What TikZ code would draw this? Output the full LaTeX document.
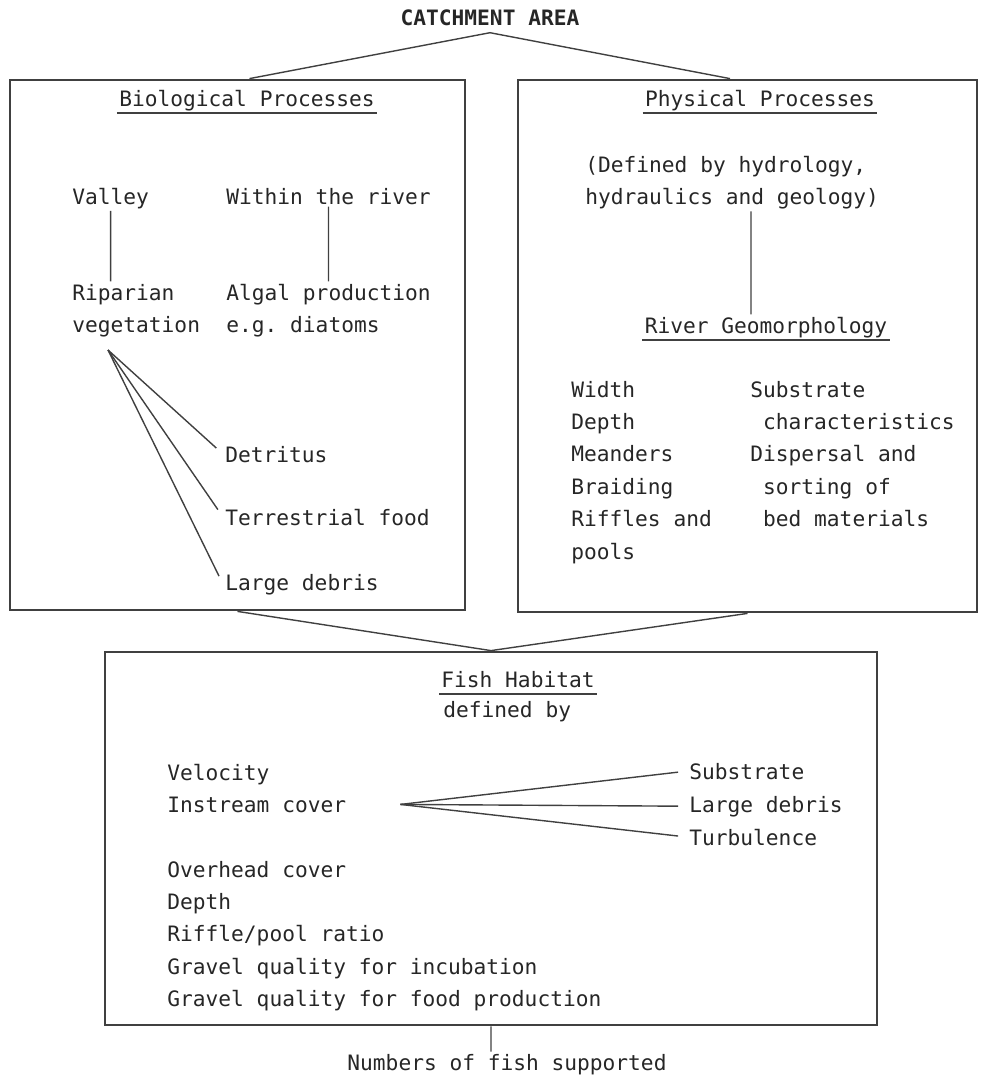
\documentclass[tikz,border=0pt]{standalone}
\usepackage{fontspec}
\setmonofont{DejaVu Sans Mono}
\usetikzlibrary{positioning}

\begin{document}
\begin{tikzpicture}[x=0.5pt,y=-0.5pt]
    \tikzset{box/.style= {draw=black!75, rectangle
    , line width=1.4pt
      },
    txt/.style= {inner sep=1pt
    , font=\ttfamily\fontsize{10.6}{16.2}\selectfont
    , align=left
    , text=black!85
      },
    link/.style= {draw=black!75, line width=0.7pt}
    }
\useasboundingbox (0,0) rectangle (983,1082);

% the three boxes
\node [box, minimum width=227.5pt, minimum height=265pt] (bio) at (237.5,345) {};
\node [box, minimum width=229.5pt, minimum height=266pt] (phys) at (747.5,346) {};
\node [box, minimum width=386pt, minimum height=186.5pt] (fish) at (491,838.5) {};

\node [txt, anchor=base, font=\ttfamily\bfseries\fontsize{10.6}{16.2}\selectfont] (catch) at (490,25) {CATCHMENT AREA};

% biological side (multi-line nodes sit on their last baseline)
\node [txt, anchor=base] (bioT) at (247,106) {Biological Processes};
\node [txt, anchor=base west] (valley) at (70,204) {Valley};
\node [txt, anchor=base west] (within) at (224,204) {Within the river};
\node [txt, anchor=base west] (rip) at (70,332.4) {Riparian\\vegetation};
\node [txt, anchor=base west] (algal) at (224,332.4) {Algal production\\e.g. diatoms};
\coordinate (vfan) at (108,350);
\node [txt, anchor=base west] (det) at (223,462) {Detritus};
\node [txt, anchor=base west] (terr) at (223,525) {Terrestrial food};
\node [txt, anchor=base west] (ldebA) at (223,590) {Large debris};

% physical side
\node [txt, anchor=base] (physT) at (760,106) {Physical Processes};
\node [txt, anchor=base west] (defd) at (583,204.4) {(Defined by hydrology,\\hydraulics and geology)};
\node [txt, anchor=base] (geomT) at (766,333) {River Geomorphology};
\node [txt, anchor=base west] (shape) at (569,559) {Width\\Depth\\Meanders\\Braiding\\Riffles and\\pools};
\node [txt, anchor=base west] (bed) at (748,526.6) {Substrate\\\ characteristics\\Dispersal and\\\ sorting of\\\ bed materials};

% fish habitat
\node [txt, anchor=base] (fishT) at (518,687) {Fish Habitat};
\node [txt, anchor=base west] (defby) at (441,717) {defined by};
\node [txt, anchor=base west] (vel) at (165,780) {Velocity};
\node [txt, anchor=base west] (inst) at (165,812) {Instream cover};
\coordinate (ifan) at ([xshift=26pt]inst.east);
\node [txt, anchor=base west] (subs) at (687,779) {Substrate};
\node [txt, anchor=base west] (ldebB) at (687,812) {Large debris};
\node [txt, anchor=base west] (turb) at (687,845) {Turbulence};
\node [txt, anchor=base west] (rest) at (165,1006.6) {Overhead cover\\Depth\\Riffle/pool ratio\\Gravel quality for incubation\\Gravel quality for food production};
\node [txt, anchor=base] (num) at (507,1070) {Numbers of fish supported};

% underlines
\foreach \t in {bioT,physT,geomT,fishT}
  \draw [link] ([yshift=-3.5pt]\t.base west) -- ([yshift=-3.5pt]\t.base east);

 \path[link]
  ([xshift=6pt]bio.north) -- ([yshift=-2.5pt]catch.south) -- ([xshift=-8.75pt]phys.north)
  (bio.south) -- (fish.north) -- (phys.south)
  (valley.south) -- (valley.south |- rip.north)
  (within.south) -- (within.south |- algal.north)
  ([xshift=-7.5pt]geomT.north) -- ([xshift=-7.5pt]geomT.north |- defd.south)
  (fish.south) -- (fish.south |- num.north);

% fans
\foreach \e in {det,terr,ldebA}
  \draw [link, shorten >=4.5pt] (vfan) -- (\e.west);
\foreach \e in {subs,ldebB,turb}
  \draw [link, shorten >=4.5pt] (ifan) -- (\e.west);
\end{tikzpicture}
\end{document}
